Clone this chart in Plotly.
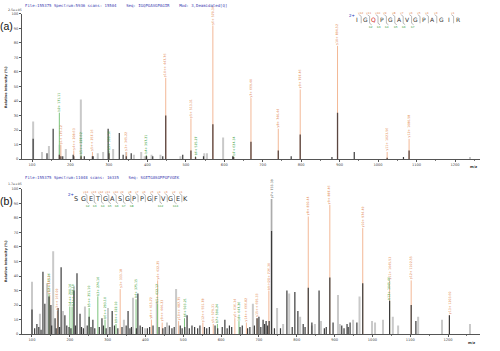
import plotly.graph_objects as go

W, H = 500, 351
def px(x): return x / W
def py(y): return 1 - y / H

# ---------------- Panel (a) data ----------------
A_LIGHT_MZ  = [103, 126, 144, 172, 188, 227, 271, 285, 311, 345, 365, 384, 393, 411, 434, 486, 548, 555, 597, 1239]
A_LIGHT_INT = [26, 5, 9, 10, 7, 41, 4, 5, 7, 5, 3, 5, 2, 3, 3, 2, 4, 4, 15, 1.5]
A_DARK_MZ   = [103, 139, 155, 180, 207, 236, 259, 298, 327, 337, 358, 398, 414, 440, 492, 546, 622, 774, 880, 938, 1066]
A_DARK_INT  = [14, 4, 21, 2, 3, 2, 2, 21, 18, 3, 4, 2, 2, 2, 3, 2, 2, 2, 1.5, 5, 1.5]
A_ION_MZ    = [171.11, 175.12, 208.63, 227.62, 257.16, 300.16, 345.22, 397.21, 447.76, 513.31, 525.27, 570.34, 624.34, 669.40, 740.44, 797.46, 894.52, 1023.56, 1080.58]
A_ION_TOP   = [32, 10, 6, 3, 5, 6, 5, 3, 56, 28, 2, 92, 2, 42, 21, 48, 78, 5, 14]
A_ION_BAR   = [3, 2, 2, 2, 2, 4, 2, 2, 30, 6, 1.5, 24, 1.5, 12, 6, 17, 32, 1, 6]
A_ION_TYPE  = ['b', 'y', 'y', 'b', 'y', 'b', 'y', 'b', 'y', 'y', 'b', 'y', 'b', 'y', 'y', 'y', 'y', 'y', 'y']
A_ION_NAME  = ['b2+', 'y1+', 'y4++', 'b5++', 'y5++', 'b3+', 'y3+', 'b4+', 'y10++', 'y5+', 'b6+', 'y6+', 'b7+', 'y7+', 'y8+', 'y9+', 'y10+', 'y11+', 'y12+']

# ---------------- Panel (b) data ----------------
B_LIGHT_MZ  = [100, 121, 140, 156, 182, 211, 240, 301, 343, 367, 399, 430, 457, 481, 684, 733.39, 748, 764, 780, 809, 840, 848, 864, 909, 914, 949, 966, 999, 1007, 1028, 1054, 1068, 1121, 1184, 1258]
B_LIGHT_INT = [36, 14, 35, 57, 16, 33, 19, 18, 10, 25, 4, 22, 8, 31, 21, 93, 18, 7, 28, 12, 6, 7, 9, 27, 7, 10, 26, 9, 8, 10, 12, 6, 12, 10, 7]
B_DARK_MZ   = [100, 113, 129, 134, 145, 150, 161, 169, 177, 187, 211, 219, 227, 251, 261, 285, 312, 354, 380, 510, 610, 695, 700, 711, 719, 727,
               733.39, 774, 795, 803, 817, 830.44, 840, 859, 887.46, 896, 933, 941, 959, 974.49, 1045.5, 1102.55, 1115, 1203.6,
               107, 118, 124, 152, 164, 173, 192, 198, 203, 215, 231, 236, 246, 256, 266, 278, 289, 296, 306, 318, 327, 338, 349, 359, 363,
               376, 386, 392, 405, 411, 420, 436, 446, 452, 463, 470, 476, 492, 497, 504, 516, 523, 530, 538, 544, 556, 562, 569, 584, 591,
               603, 616, 622, 628, 650, 656, 670, 676, 688, 705, 715, 723, 741, 757, 788, 822, 873, 878, 919, 925, 936]
B_DARK_INT  = [17, 7, 43, 21, 26, 20, 11, 18, 46, 13, 30, 42, 14, 12, 10, 11, 16, 16, 28, 13, 10, 11, 12, 10, 9, 9,
               71, 30, 29, 16, 7, 32, 8, 30, 39, 8, 7, 8, 8, 35, 23, 20, 9, 13,
               4, 5, 3, 6, 4, 5, 6, 5, 4, 6, 5, 4, 6, 5, 4, 5, 6, 4, 5, 6, 4, 5, 6, 4, 5,
               4, 6, 5, 4, 5, 6, 5, 4, 5, 6, 4, 5, 6, 4, 5, 4, 6, 5, 4, 6, 5, 4, 5, 6, 4,
               5, 4, 6, 5, 5, 6, 4, 5, 6, 5, 7, 6, 4, 4, 5, 5, 4, 5, 6, 4, 5]
B_ION_MZ    = [145.06, 147.11, 167.09, 200.10, 206.10, 251.10, 274.10, 293.10, 322.10, 333.18, 375.15, 415.72, 432.17, 432.25, 444.23,
               487.75, 503.21, 551.78, 579.31, 590.24, 636.34, 647.26, 666.82, 695.33, 726.30, 733.39, 830.44, 887.46, 974.49,
               1045.46, 1045.53, 1102.55, 1203.60]
B_ION_TOP   = [28, 27, 16, 19, 19, 18, 26, 10, 7, 31, 24, 10, 21, 37, 8,
               9, 11, 8, 7, 7, 11, 9, 8, 11, 30, 93, 81, 89, 73,
               23, 37, 37, 13]
B_ION_TYPE  = ['b', 'y', 'y', 'b', 'b', 'b', 'b', 'b', 'b', 'y', 'b', 'y', 'b', 'y', 'y',
               'y', 'b', 'y', 'y', 'b', 'y', 'b', 'y', 'y', 'y', 'g', 'y', 'y', 'y',
               'b', 'y', 'y', 'y']
B_ION_NAME  = ['b2+', 'y1+', 'y3++', 'b4++', 'b7++', 'b5++', 'b3+', 'b6++', 'b9++', 'y3+', 'b4+', 'y8++', 'b5+', 'y4+', 'y9++',
               'y10++', 'b6+', 'y12++', 'y5+', 'b7+', 'y6+', 'b8+', 'y14++', 'y15++', 'b9-H2O+', 'y7+', 'y8+', 'y9+', 'y10+',
               'b12+', 'y11+', 'y12+', 'y13+']

SEQ_A = "IGQPGAVGPAGIR"
SEQ_B = "SGETGASGPPGFVGEK"
X_TICKS = [100, 200, 300, 400, 500, 600, 700, 800, 900, 1000, 1100, 1200]
Y_TICKS = [0, 10, 20, 30, 40, 50, 60, 70, 80, 90, 100]

C_LIGHT = '#c9c9c9'
C_DARK = '#3b3b3b'
C_ION_BAR = '#5a4640'
C_Y_LINE = '#f3b896'
C_B_LINE = '#7cc47c'
C_Y_TXT = '#e2834d'
C_B_TXT = '#2f9a35'
C_G_TXT = '#555555'

fig = go.Figure()

def stems(mz, inten):
    xs, ys = [], []
    for m, i in zip(mz, inten):
        xs += [m, m, None]
        ys += [0, i, None]
    return xs, ys

def add_stems(mz, inten, color, width, xa, ya):
    x, y = stems(mz, inten)
    fig.add_trace(go.Scatter(x=x, y=y, mode='lines', line=dict(color=color, width=width),
                             xaxis=xa, yaxis=ya, hoverinfo='skip', showlegend=False))

annotations = []
shapes = []

def ion_layer(mz, top, types, names, xa, ya, bar=None):
    ymz = [m for m, t in zip(mz, types) if t == 'y']
    ytop = [v for v, t in zip(top, types) if t == 'y']
    bmz = [m for m, t in zip(mz, types) if t == 'b']
    btop = [v for v, t in zip(top, types) if t == 'b']
    gmz = [m for m, t in zip(mz, types) if t == 'g']
    gtop = [v for v, t in zip(top, types) if t == 'g']
    add_stems(ymz, ytop, C_Y_LINE, 1, xa, ya)
    add_stems(bmz, btop, C_B_LINE, 1, xa, ya)
    add_stems(gmz, gtop, '#aaaaaa', 1, xa, ya)
    if bar is not None:
        add_stems(mz, bar, C_ION_BAR, 1.3, xa, ya)
    xr = 'x' if xa == 'x' else 'x2'
    yr = 'y' if ya == 'y' else 'y2'
    for m, t, ty, n in zip(mz, top, types, names):
        col = {'y': C_Y_TXT, 'b': C_B_TXT, 'g': C_G_TXT}[ty]
        annotations.append(dict(x=m, y=t, xref=xr, yref=yr, text=f"{n} {m:.2f}", textangle=-90,
                                xanchor='center', yanchor='bottom', showarrow=False, borderpad=0,
                                font=dict(size=3.2, color=col, family='DejaVu Sans')))

# panel a
add_stems(A_LIGHT_MZ, A_LIGHT_INT, C_LIGHT, 2, 'x', 'y')
ion_layer(A_ION_MZ, A_ION_TOP, A_ION_TYPE, A_ION_NAME, 'x', 'y', A_ION_BAR)
add_stems(A_DARK_MZ, A_DARK_INT, C_DARK, 1.2, 'x', 'y')

# panel b
add_stems(B_LIGHT_MZ, B_LIGHT_INT, C_LIGHT, 2, 'x2', 'y2')
ion_layer(B_ION_MZ, B_ION_TOP, B_ION_TYPE, B_ION_NAME, 'x2', 'y2')
add_stems(B_DARK_MZ, B_DARK_INT, C_DARK, 1.2, 'x2', 'y2')

def seq_block(seq, x0, dx, yl, y_gaps, b_gaps, red_idx=None, fsize=6):
    n = len(seq)
    annotations.append(dict(x=px(x0 - 5), y=py(yl - 4), xref='paper', yref='paper', text='2+',
                            showarrow=False, font=dict(size=4, color='#2233bb', family='DejaVu Sans'),
                            xanchor='center', yanchor='middle'))
    for i, ch in enumerate(seq):
        col = '#d02020' if i == red_idx else '#333333'
        annotations.append(dict(x=px(x0 + i * dx), y=py(yl), xref='paper', yref='paper', text=ch,
                                showarrow=False, font=dict(size=fsize, color=col, family='DejaVu Sans'),
                                xanchor='center', yanchor='middle'))
    for g in sorted(set(y_gaps) | set(b_gaps)):
        gx = x0 + (g + 0.5) * dx
        path = f"M {px(gx)},{py(yl - 3.5)} L {px(gx)},{py(yl + 3.5)}"
        shapes.append(dict(type='path', xref='paper', yref='paper', path=path,
                           line=dict(color='#8a8a8a', width=0.6)))
        if g in y_gaps:
            p = f"M {px(gx)},{py(yl - 3.5)} L {px(gx - 2)},{py(yl - 5)}"
            shapes.append(dict(type='path', xref='paper', yref='paper', path=p,
                               line=dict(color='#8a8a8a', width=0.6)))
            annotations.append(dict(x=px(gx - 1), y=py(yl - 6.5), xref='paper', yref='paper',
                                    text=f"y{n - g - 1}", showarrow=False,
                                    font=dict(size=2.8, color=C_Y_TXT, family='DejaVu Sans'),
                                    xanchor='center', yanchor='middle'))
        if g in b_gaps:
            p = f"M {px(gx)},{py(yl + 3.5)} L {px(gx + 2)},{py(yl + 5)}"
            shapes.append(dict(type='path', xref='paper', yref='paper', path=p,
                               line=dict(color='#8a8a8a', width=0.6)))
            annotations.append(dict(x=px(gx + 1), y=py(yl + 7.5), xref='paper', yref='paper',
                                    text=f"b{g + 1}", showarrow=False,
                                    font=dict(size=2.8, color=C_B_TXT, family='DejaVu Sans'),
                                    xanchor='center', yanchor='middle'))

seq_block(SEQ_A, 357, 8.4, 18, [0, 1, 2, 3, 4, 5, 6, 7, 8, 9, 11], [1, 2, 3, 4, 5, 6], red_idx=2, fsize=6)
seq_block(SEQ_B, 76, 7.3, 199, list(range(1, 15)), [1, 2, 3, 4, 5, 6, 7, 11, 13], fsize=6.5)

def text_px(x, y, t, size, color='#333', xa='left', ya='middle', angle=0, fam='DejaVu Sans'):
    annotations.append(dict(x=px(x), y=py(y), xref='paper', yref='paper', text=t, showarrow=False,
                            textangle=angle, font=dict(size=size, color=color, family=fam),
                            xanchor=xa, yanchor=ya, borderpad=0))

text_px(-1, 24, '(a)', 10.5, '#111', fam='Liberation Sans')
text_px(-1, 201, '(b)', 10.5, '#111', fam='Liberation Sans')
text_px(24, 4, 'File:155375 Spectrum:5936 scans: 15504    Seq: IGQPGAVGPAGIR    Mod: 3,Deamidated[Q]', 4, '#3b3bb0', fam='DejaVu Sans Mono')
text_px(24, 178, 'File:155375 Spectrum:11048 scans: 16335    Seq: SGETGASGPPGFVGEK', 4, '#3b3bb0', fam='DejaVu Sans Mono')
text_px(7, 8.5, '2.5e+05', 3.2, '#444')
text_px(7, 184.5, '1.7e+05', 3.2, '#444')
text_px(6, 86, '<b>Relative Intensity (%)</b>', 3.4, '#333', xa='center', angle=-90)
text_px(6, 262, '<b>Relative Intensity (%)</b>', 3.4, '#333', xa='center', angle=-90)
text_px(473, 167, '<b>m/z</b>', 3.6, '#333', xa='center')
text_px(471, 345, '<b>m/z</b>', 3.6, '#333', xa='center')

ax_common = dict(showgrid=False, zeroline=False, showline=True, linecolor='#555555', linewidth=0.8,
                 ticks='outside', ticklen=2, tickwidth=0.6, tickcolor='#555555',
                 tickfont=dict(size=3.6, color='#444', family='DejaVu Sans'))

fig.update_layout(
    width=W, height=H, margin=dict(l=0, r=0, t=0, b=0),
    paper_bgcolor='white', plot_bgcolor='white', showlegend=False,
    xaxis=dict(domain=[px(22), px(480)], anchor='y', range=[74, 1265], tickvals=X_TICKS,
               minor=dict(dtick=50, ticklen=1.2, tickcolor='#777', ticks='outside'), **ax_common),
    yaxis=dict(domain=[py(159), py(12)], anchor='x', range=[0, 100], tickvals=Y_TICKS, **ax_common),
    xaxis2=dict(domain=[px(22), px(480)], anchor='y2', range=[73.6, 1284.5], tickvals=X_TICKS,
                minor=dict(dtick=50, ticklen=1.2, tickcolor='#777', ticks='outside'), **ax_common),
    yaxis2=dict(domain=[py(336), py(189)], anchor='x2', range=[0, 100], tickvals=Y_TICKS, **ax_common),
    annotations=annotations, shapes=shapes,
)

fig.write_html("out.html")
